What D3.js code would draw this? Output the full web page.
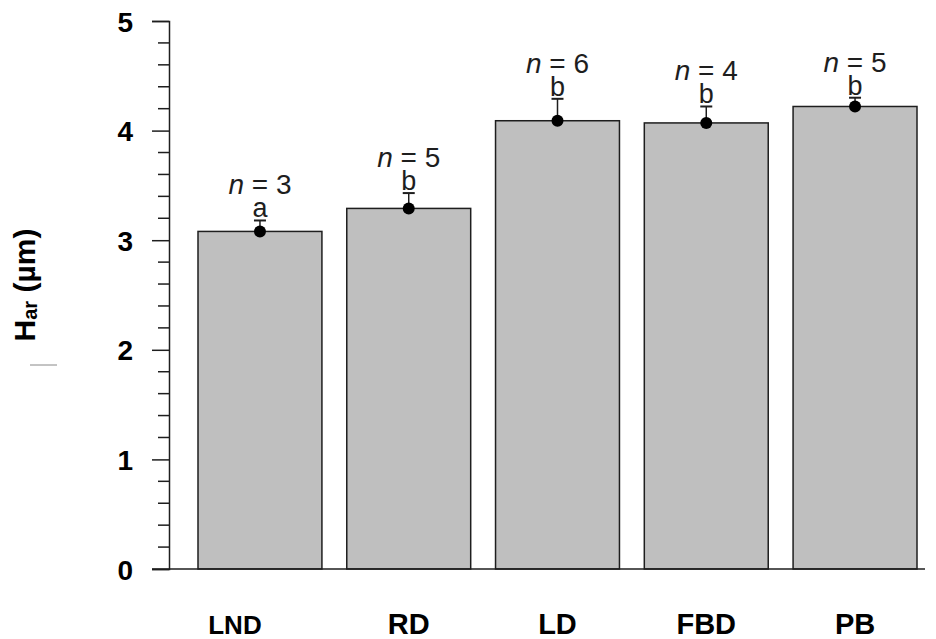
<!DOCTYPE html>
<html lang="en">
<head>
    <meta charset="UTF-8">
    <title>Har by group</title>
    <script src="https://d3js.org/d3.v7.min.js"></script>
    <style>
        body {
            margin: 0;
            background-color: white;
            font-family: 'Liberation Sans', Arial, sans-serif;
        }
    </style>
</head>
<body>
    <div id="chart"></div>

    <script>
        // data
        const groups = ["LND", "RD", "LD", "FBD", "PB"];
        const means = [3.08, 3.29, 4.09, 4.07, 4.22];
        const upper = [3.18, 3.43, 4.29, 4.22, 4.30];   // top of error bar
        const sizes = [3, 5, 6, 4, 5];
        const letters = ["a", "b", "b", "b", "b"];
        const yTicks = [0, 1, 2, 3, 4, 5];

        const W = 936, H = 639;
        const svg = d3.select("#chart")
            .append("svg")
                .attr("width", W)
                .attr("height", H);

        const x = d3.scaleBand()
            .domain(groups)
            .range([198, 917])
            .paddingInner(0.167)
            .paddingOuter(0);

        const y = d3.scaleLinear()
            .domain([0, 5])
            .range([569, 21]);

        const axisX = 169;
        const ink = "#1e1e1e";

        // bars
        svg.append("g").selectAll("rect")
            .data(groups)
            .join("rect")
                .attr("x", d => x(d))
                .attr("width", x.bandwidth())
                .attr("y", (d, i) => y(means[i]))
                .attr("height", (d, i) => y(0) - y(means[i]))
                .attr("fill", "#bfbfbf")
                .attr("stroke", ink)
                .attr("stroke-width", 1.5);

        // y axis: major ticks with labels, minor ticks every 0.2
        const yAxis = svg.append("g")
            .attr("transform", `translate(${axisX},0)`)
            .call(d3.axisLeft(y).tickValues(yTicks).tickSize(17).tickPadding(19).tickFormat(d3.format("d")));
        yAxis.select(".domain").attr("stroke", ink).attr("stroke-width", 1.5);
        yAxis.selectAll(".tick line").attr("stroke", ink).attr("stroke-width", 1.5);
        yAxis.selectAll(".tick text")
            .attr("fill", "black")
            .attr("dy", "0.36em")
            .style("font-family", "'Liberation Sans', Arial, sans-serif")
            .style("font-size", "28px")
            .style("font-weight", "bold");

        const minor = d3.range(0, 25).map(i => i * 0.2).filter(v => Math.abs(v - Math.round(v)) > 1e-6);
        svg.append("g").selectAll("line")
            .data(minor)
            .join("line")
                .attr("x1", axisX - 11)
                .attr("x2", axisX)
                .attr("y1", d => y(d))
                .attr("y2", d => y(d))
                .attr("stroke", ink)
                .attr("stroke-width", 1.5);

        // baseline
        svg.append("line")
            .attr("x1", axisX - 17)
            .attr("x2", 925)
            .attr("y1", y(0))
            .attr("y2", y(0))
            .attr("stroke", ink)
            .attr("stroke-width", 1.5);

        // error bars + mean dots
        const eb = svg.append("g");
        groups.forEach((g, i) => {
            const cx = x(g) + x.bandwidth() / 2;
            eb.append("line")
                .attr("x1", cx).attr("x2", cx)
                .attr("y1", y(means[i])).attr("y2", y(upper[i]))
                .attr("stroke", ink).attr("stroke-width", 1.5);
            eb.append("line")
                .attr("x1", cx - 6).attr("x2", cx + 6)
                .attr("y1", y(upper[i])).attr("y2", y(upper[i]))
                .attr("stroke", ink).attr("stroke-width", 2);
            eb.append("circle")
                .attr("cx", cx).attr("cy", y(means[i]))
                .attr("r", 6)
                .attr("fill", "black");

            // significance letter
            eb.append("text")
                .attr("x", cx)
                .attr("y", y(upper[i]) - 3)
                .attr("text-anchor", "middle")
                .attr("fill", ink)
                .style("font-size", "27px")
                .text(letters[i]);

            // sample size
            const t = eb.append("text")
                .attr("x", cx)
                .attr("y", y(upper[i]) - 26)
                .attr("text-anchor", "middle")
                .attr("fill", ink)
                .style("font-size", "28px");
            t.append("tspan").style("font-style", "italic").text("n");
            t.append("tspan").text(" = " + sizes[i]);
        });

        // category labels
        svg.append("g").selectAll("text")
            .data(groups)
            .join("text")
                .attr("x", d => x(d) + x.bandwidth() / 2 - (d === "LND" ? 25 : 0))
                .attr("y", 634)
                .attr("text-anchor", "middle")
                .attr("fill", "black")
                .style("font-weight", "bold")
                .style("font-size", d => d === "LND" ? "26px" : "29px")
                .text(d => d);

        // y axis title
        const yt = svg.append("text")
            .attr("transform", "translate(35,285) rotate(-90)")
            .attr("text-anchor", "middle")
            .attr("fill", "black")
            .style("font-weight", "bold")
            .style("font-size", "30px");
        yt.append("tspan").text("H");
        yt.append("tspan").style("font-size", "20px").attr("dy", 2).text("ar");
        yt.append("tspan").attr("dy", -2).text(" (\u00b5m)");

        // stray short mark under the title
        svg.append("line")
            .attr("x1", 30).attr("x2", 57)
            .attr("y1", 365).attr("y2", 365)
            .attr("stroke", "#888")
            .attr("stroke-width", 1);
    </script>
</body>
</html>
